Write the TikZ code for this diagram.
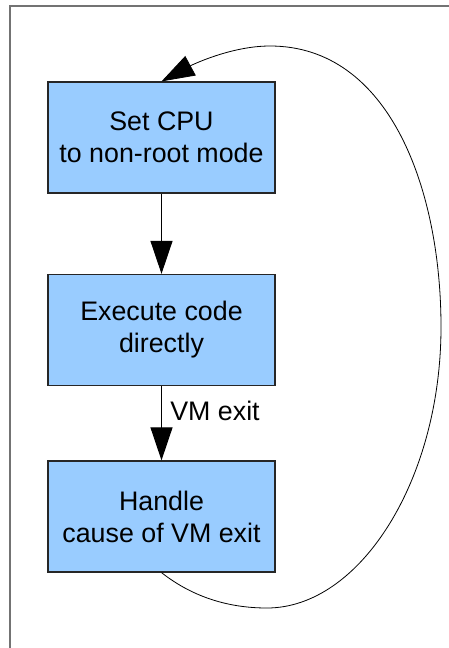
\documentclass[tikz,border=0pt]{standalone}
\usepackage{fontspec}
\setmainfont{Liberation Sans}
\usetikzlibrary{arrows.meta}

\definecolor{stageblue}{HTML}{99CCFF}

\tikzstyle{stage} = [
	draw = black!85,
	fill = stageblue,
	line width = 1.2pt,
	minimum width = 227pt,
	minimum height = 111pt,
	inner sep = 0pt,
	align = center
	]

\tikzstyle{flow} = [
	-{Triangle[length=33pt,width=22pt]},
	line width = 1pt
	]

\begin{document}
\begin{tikzpicture}[
	x = 1pt, y = -1pt,
	every node/.style = {
	font = \fontsize{26.8}{32}\selectfont
	}
	]

			   \useasboundingbox (0,0) rectangle (449,648);
			   \draw[black!55, line width=1.2pt] (10,648) -- (10,6) -- (449,6);

			   \node[stage] (setcpu)  at (161.5,137.5) {Set CPU\\to non-root mode};
			   \node[stage] (execute) at (161.5,330) {Execute code\\directly};
			   \node[stage] (handle)  at (161.5,516.5) {Handle\\cause of VM exit};

			   \coordinate (loopbottom) at (267,608);
			   \coordinate (loopright) at (441,327);
			   \coordinate (looptop) at (270,46);

			   \draw[flow] (setcpu) -- (execute);
			   \draw[flow] (execute) -- node[right, pos=0.33, xshift=5pt] {VM exit} (handle);
			   \draw[flow, line width=0.8pt] (handle.south) .. controls (190,595) and (225,608) .. (loopbottom)
			   .. controls (360,608) and (441,480) .. (loopright)
			   .. controls (441,190) and (390,46) .. (looptop)
			   .. controls (230,46) and (190,66) .. (setcpu.north);
		   \end{tikzpicture}
\end{document}
